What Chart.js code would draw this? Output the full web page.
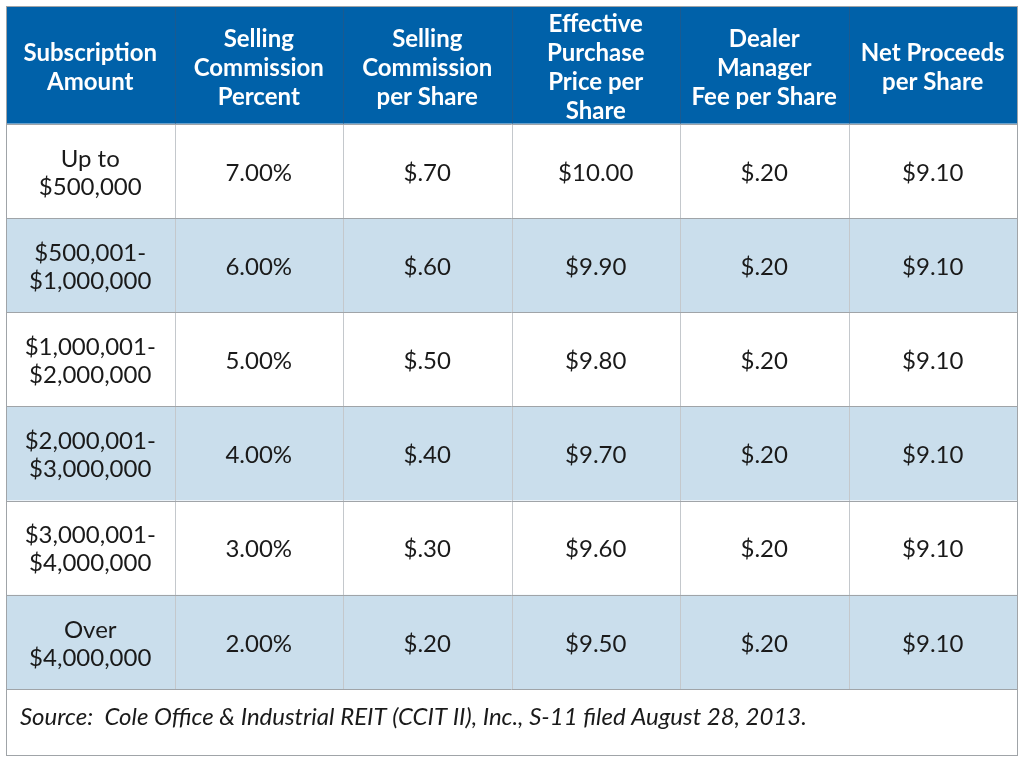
<!DOCTYPE html>
<html><head><meta charset="utf-8">
<script src="https://cdn.jsdelivr.net/npm/chart.js@4/dist/chart.umd.min.js"></script>
<style>html,body{margin:0;padding:0;background:#fff}canvas{display:block}</style>
</head><body>
<canvas id="c" width="1024" height="768"></canvas>
<script>
const headers = [
  ["Subscription","Amount"],
  ["Selling","Commission","Percent"],
  ["Selling","Commission","per Share"],
  ["Effective","Purchase","Price per","Share"],
  ["Dealer","Manager","Fee per Share"],
  ["Net Proceeds","per Share"]
];
const subscriptionAmounts = [
  ["Up to","$500,000"],
  ["$500,001-","$1,000,000"],
  ["$1,000,001-","$2,000,000"],
  ["$2,000,001-","$3,000,000"],
  ["$3,000,001-","$4,000,000"],
  ["Over","$4,000,000"]
];
const commissionPercent = ["7.00%","6.00%","5.00%","4.00%","3.00%","2.00%"];
const commissionPerShare = ["$.70","$.60","$.50","$.40","$.30","$.20"];
const effectivePrice = ["$10.00","$9.90","$9.80","$9.70","$9.60","$9.50"];
const dealerFee = ["$.20","$.20","$.20","$.20","$.20","$.20"];
const netProceeds = ["$9.10","$9.10","$9.10","$9.10","$9.10","$9.10"];
const sourceNote = "Source:  Cole Office & Industrial REIT (CCIT II), Inc., S-11 filed August 28, 2013.";

const HEADER_H = 1.25, SOURCE_H = 0.70, NROWS = subscriptionAmounts.length;
const Y_MAX = HEADER_H + NROWS + SOURCE_H;

const tablePlugin = {
  id: 'tablePlugin',
  afterDraw(chart) {
    const ctx = chart.ctx, xs = chart.scales.x, ys = chart.scales.y;
    const X = v => xs.getPixelForValue(v), Y = v => ys.getPixelForValue(v);
    const ncol = headers.length;
    const cols = [subscriptionAmounts, commissionPercent, commissionPerShare, effectivePrice, dealerFee, netProceeds];
    ctx.save();
    ctx.fillStyle = '#0061a9';
    ctx.fillRect(X(0), Y(0), X(ncol) - X(0), Y(HEADER_H) - Y(0));
    for (let r = 0; r < NROWS; r++) {
      ctx.fillStyle = (r % 2 === 1) ? '#cadeec' : '#ffffff';
      ctx.fillRect(X(0), Y(HEADER_H + r), X(ncol) - X(0), Y(HEADER_H + r + 1) - Y(HEADER_H + r));
    }
    for (let c = 1; c < ncol; c++) {
      const x = Math.round(X(c)) + 0.5;
      ctx.strokeStyle = '#1a5a90'; ctx.lineWidth = 1;
      ctx.beginPath(); ctx.moveTo(x, Y(0)); ctx.lineTo(x, Y(HEADER_H)); ctx.stroke();
      ctx.strokeStyle = '#c4c8cc';
      ctx.beginPath(); ctx.moveTo(x, Y(HEADER_H)); ctx.lineTo(x, Y(HEADER_H + NROWS)); ctx.stroke();
    }
    ctx.strokeStyle = '#a0a4a8';
    for (let r = 0; r <= NROWS; r++) {
      const y = Math.round(Y(HEADER_H + r)) + 0.5;
      ctx.beginPath(); ctx.moveTo(X(0), y); ctx.lineTo(X(ncol), y); ctx.stroke();
    }
    ctx.strokeStyle = '#a0a4a8';
    ctx.strokeRect(Math.round(X(0)) + 0.5, Math.round(Y(0)) + 0.5, Math.round(X(ncol) - X(0)), Math.round(Y(Y_MAX) - Y(0)));
    ctx.textAlign = 'center'; ctx.textBaseline = 'middle';
    ctx.fillStyle = '#ffffff';
    ctx.font = 'bold 24px Lato';
    const lh = 29;
    headers.forEach((lines, c) => {
      const cx = (X(c) + X(c + 1)) / 2;
      const cy = (Y(0) + Y(HEADER_H)) / 2 + 3;
      lines.forEach((t, i) => ctx.fillText(t, cx, cy + (i - (lines.length - 1) / 2) * lh));
    });
    ctx.fillStyle = '#1a1a1a';
    ctx.font = '24px Lato';
    cols.forEach((col, c) => {
      const cx = (X(c) + X(c + 1)) / 2;
      col.forEach((v, r) => {
        const cy = (Y(HEADER_H + r) + Y(HEADER_H + r + 1)) / 2 + 2;
        const lines = Array.isArray(v) ? v : [v];
        lines.forEach((t, i) => ctx.fillText(t, cx, cy + (i - (lines.length - 1) / 2) * 28));
      });
    });
    ctx.textAlign = 'left';
    ctx.font = 'italic 24px Lato';
    ctx.fillText(sourceNote, X(0) + 14, Y(HEADER_H + NROWS) + 28);
    ctx.restore();
  }
};

new Chart(document.getElementById('c'), {
  type: 'scatter',
  data: { datasets: [{ data: [], pointRadius: 0 }] },
  options: {
    responsive: false, animation: false,
    layout: { padding: { left: 6, right: 7, top: 6, bottom: 13 } },
    plugins: { legend: { display: false }, tooltip: { enabled: false } },
    scales: {
      x: { type: 'linear', min: 0, max: headers.length, display: false },
      y: { type: 'linear', min: 0, max: Y_MAX, reverse: true, display: false }
    }
  },
  plugins: [tablePlugin]
});
</script>
</body></html>
